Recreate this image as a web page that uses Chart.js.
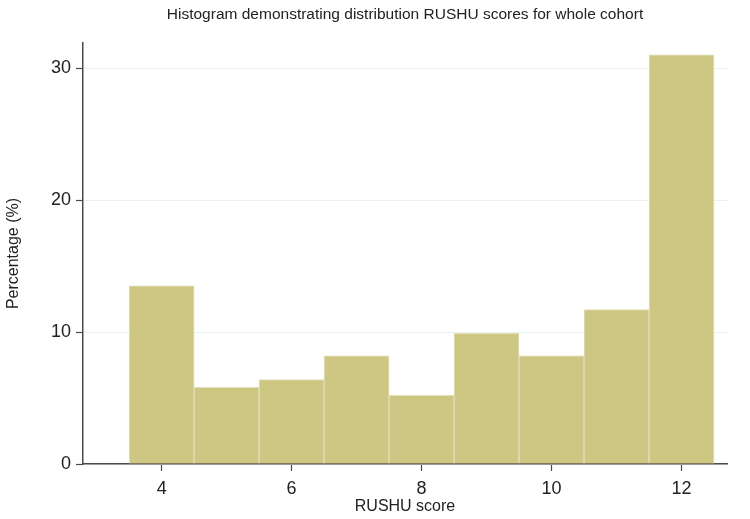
<!DOCTYPE html>
<html>
<head>
<meta charset="utf-8">
<script src="https://cdn.jsdelivr.net/npm/chart.js@4.4.1/dist/chart.umd.min.js"></script>
<style>
  html, body { margin: 0; padding: 0; background: #ffffff; }
  #wrap { width: 750px; height: 519px; }
</style>
</head>
<body>
<div id="wrap"><canvas id="chart"></canvas></div>
<script>
// --- Histogram data (percent of cohort per RUSHU score) ---
const scores = [4, 5, 6, 7, 8, 9, 10, 11, 12];
const percents = [13.5, 5.8, 6.4, 8.2, 5.2, 9.9, 8.2, 11.7, 31.0];
const xTicks = [4, 6, 8, 10, 12];
const yTicks = [0, 10, 20, 30];

const barFill = '#cec683';
const barEdge = '#e4e0b8';
const axisColor = '#4a4a4a';
const textColor = '#222222';

Chart.defaults.font.family = '"Liberation Sans", Arial, sans-serif';
Chart.defaults.color = textColor;

const points = scores.map((s, i) => ({ x: s, y: percents[i] }));

new Chart(document.getElementById('chart'), {
  type: 'bar',
  data: {
    datasets: [{
      data: points,
      backgroundColor: barFill,
      borderColor: barEdge,
      borderWidth: 1,
      barPercentage: 1,
      categoryPercentage: 1
    }]
  },
  options: {
    responsive: true,
    maintainAspectRatio: false,
    animation: false,
    layout: { padding: { left: 0, right: 23, top: 0, bottom: 0 } },
    plugins: {
      legend: { display: false },
      tooltip: { enabled: false },
      title: {
        display: true,
        fullSize: false,
        text: 'Histogram demonstrating distribution RUSHU scores for whole cohort',
        color: textColor,
        font: { size: 15.5, weight: 'normal', lineHeight: 1.2 },
        padding: { top: 5, bottom: 19.4 }
      }
    },
    scales: {
      x: {
        type: 'linear',
        min: 2.79,
        max: 12.7,
        offset: false,
        afterBuildTicks: (scale) => { scale.ticks = xTicks.map(v => ({ value: v })); },
        afterFit: (scale) => { scale.height = 55; },
        grid: { offset: false, drawOnChartArea: false, drawTicks: true, tickLength: 7, tickColor: axisColor, tickWidth: 1.2 },
        border: { display: true, color: axisColor, width: 1.5 },
        ticks: { font: { size: 18 }, padding: 7, color: textColor, maxRotation: 0 },
        title: {
          display: true,
          text: 'RUSHU score',
          font: { size: 16 },
          color: textColor,
          padding: { top: 0, bottom: 2.4 }
        }
      },
      y: {
        min: 0,
        max: 31.9,
        afterBuildTicks: (scale) => { scale.ticks = yTicks.map(v => ({ value: v })); },
        afterFit: (scale) => { scale.width = 83; },
        grid: { color: '#e8f1f2', lineWidth: 1, drawTicks: true, tickLength: 7, tickColor: axisColor, tickWidth: 1.2 },
        border: { display: true, color: axisColor, width: 1.5 },
        ticks: { font: { size: 18 }, padding: 5, color: textColor },
        title: {
          display: true,
          text: 'Percentage (%)',
          font: { size: 16 },
          color: textColor,
          padding: { top: 4.4, bottom: 0 }
        }
      }
    }
  }
});
</script>
</body>
</html>
